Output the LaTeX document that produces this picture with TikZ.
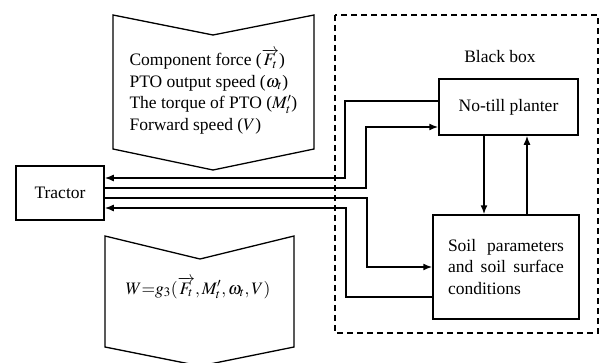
\documentclass[tikz,border=0pt]{standalone}
\usepackage{mathptmx}
\usepackage[no-math]{fontspec}
\setmainfont{Liberation Serif}
\usetikzlibrary{arrows.meta}
\tikzset{
  txt/.style={font=\fontsize{17.5}{21.5}\selectfont},
  blk/.style={draw, line width=1.5pt, txt, inner sep=0pt},
  arr/.style={line width=1.5pt, -{Latex[length=9pt,width=7pt]}},
  chev/.style={draw, line width=1.3pt, line join=miter},
}
\begin{document}
\begin{tikzpicture}[x=1pt,y=-1pt]
\useasboundingbox (0,0) rectangle (600,362);
% dashed black box
\draw[line width=1.5pt, dash pattern=on 6pt off 4pt] (335,15) rectangle (598,333);
\node[txt] (bbl) at (500,57) {Black box};
% boxes
\node[blk, minimum width=88pt, minimum height=54pt] (tractor) at (60,193) {Tractor};
\node[blk, minimum width=139pt, minimum height=56pt] (planter) at (508.5,107) {No-till planter};
\node[blk, minimum width=146pt, minimum height=104pt, align=justify, text width=116pt] (soil) at (506,267) {Soil parameters and soil surface conditions};
% chevrons
\draw[chev] (113,15) -- (213,35) -- (314,15) -- (314,149) -- (213,170) -- (113,149) -- cycle;
\node[txt, anchor=west, align=left] (up) at (126,91.5) {Component force ($\overrightarrow{F_t}$)\\PTO output speed ($\omega_t$)\\The torque of PTO ($M_t'$)\\Forward speed ($V$)};
\draw[chev] (105,236) -- (200,259) -- (294,236) -- (294,347) -- (200,366) -- (105,347) -- cycle;
\node[txt] (formula) at (198,288) {$W{=}g_3(\overrightarrow{F_t},M_t',\omega_t,V)$};
% connectors
\draw[arr] (planter.west |- 0,101) -- (345,101) -- (345,178) -- (tractor.east |- 0,178);
\draw[arr] (tractor.east |- 0,188) -- (366,188) -- (366,127) -- (planter.west |- 0,127);
\draw[arr] (tractor.east |- 0,198) -- (367,198) -- (367,267) -- (soil.west |- 0,267);
\draw[arr] (soil.west |- 0,297) -- (346,297) -- (346,208) -- (tractor.east |- 0,208);
\draw[arr] (planter.south -| 484,0) -- (soil.north -| 484,0);
\draw[arr] (soil.north -| 527,0) -- (planter.south -| 527,0);
\end{tikzpicture}
\end{document}
